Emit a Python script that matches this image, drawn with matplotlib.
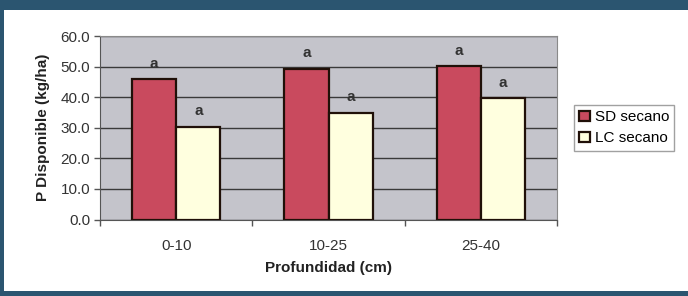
import numpy as np
import matplotlib.pyplot as plt
from matplotlib.patches import Rectangle

plt.rcParams['font.family'] = ['Liberation Sans', 'DejaVu Sans']

categories = ['0-10', '10-25', '25-40']
sd_secano = [46.0, 49.3, 50.2]
lc_secano = [30.4, 34.9, 39.8]
sd_letters = ['a', 'a', 'a']
lc_letters = ['a', 'a', 'a']

fig = plt.figure(figsize=(6.88, 2.96), dpi=100, facecolor='#2b5570')
fig.patches.append(Rectangle((4 / 688, 5 / 296), 1, 281 / 296, transform=fig.transFigure,
                             facecolor='white', edgecolor='none', zorder=0))

ax = fig.add_axes([100 / 688, 76.5 / 296, 457 / 688, 183.5 / 296], zorder=2)
ax.set_facecolor('#c4c4cb')

x = np.arange(len(categories))
w = 0.29
b1 = ax.bar(x - w / 2, sd_secano, w, color='#c94a5e', edgecolor='#201008', linewidth=1.6,
            label='SD secano', zorder=3)
b2 = ax.bar(x + w / 2, lc_secano, w, color='#ffffdf', edgecolor='#201008', linewidth=1.6,
            label='LC secano', zorder=3)

for rect, t in list(zip(b1, sd_letters)) + list(zip(b2, lc_letters)):
    ax.annotate(t, (rect.get_x() + rect.get_width() / 2, rect.get_height()),
                xytext=(0, 11), textcoords='offset points', ha='center', va='center',
                fontsize=11, fontweight='bold', color='#333333')

ax.set_xlim(-0.5, 2.5)
ax.set_ylim(0, 60)
ax.set_yticks(np.arange(0, 61, 10))
ax.set_yticklabels([f'{v:.1f}' for v in np.arange(0, 61, 10)], fontsize=11, color='#333333')
ax.yaxis.grid(True, color='#3a3a3a', linewidth=1.0, zorder=1)
ax.set_axisbelow(True)

ax.set_xticks(x)
ax.set_xticklabels(categories, fontsize=11, color='#333333')
ax.set_xticks([-0.5, 0.5, 1.5, 2.5], minor=True)
ax.tick_params(axis='x', which='major', length=0, pad=14)
ax.tick_params(axis='x', which='minor', length=4, width=1, color='#555555')
ax.tick_params(axis='y', length=4, width=1, color='#555555', pad=3)

for s in ['top', 'right']:
    ax.spines[s].set_color('#8a8a8a')
for s in ['left', 'bottom']:
    ax.spines[s].set_color('#555555')

ax.set_ylabel('P Disponible (kg/ha)', fontsize=11, fontweight='bold', labelpad=8, color='#222222')
ax.set_xlabel('Profundidad (cm)', fontsize=11, fontweight='bold', labelpad=6, color='#222222')

leg = fig.legend(handles=[b1, b2], loc='upper left', bbox_to_anchor=(574 / 688, 1 - 105 / 296),
                 fontsize=11, frameon=True, fancybox=False, handlelength=0.7, handleheight=0.7,
                 handletextpad=0.3, borderpad=0.35, labelspacing=0.45, borderaxespad=0)
leg.set_zorder(3)
leg.get_frame().set_edgecolor('#8a8a8a')
leg.get_frame().set_linewidth(1.0)

fig.savefig('out.png', dpi=100, facecolor=fig.get_facecolor())
